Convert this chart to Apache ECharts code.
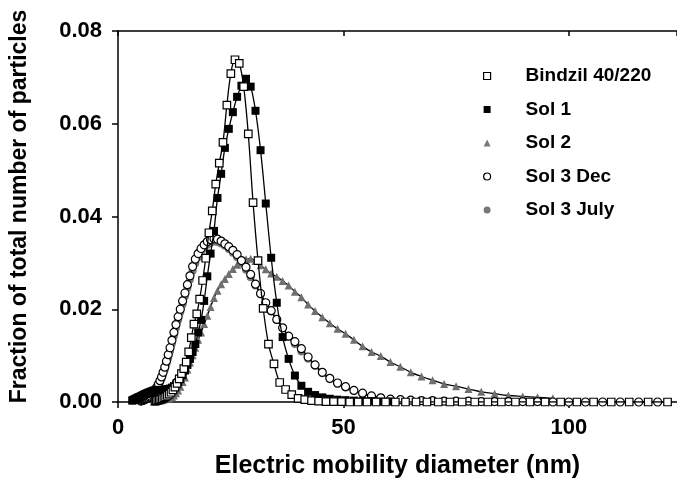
<!DOCTYPE html>
<html>
<head>
<meta charset="utf-8">
<script src="https://cdn.jsdelivr.net/npm/echarts@6/dist/echarts.min.js"></script>
<style>html,body{margin:0;padding:0;background:#fff;}#chart{width:677px;height:485px;}</style>
</head>
<body>
<div id="chart"></div>
<script>
// SMPS bin diameters (nm)
const diametersA = [
  3.16, 3.28, 3.40, 3.52, 3.65, 3.79, 3.92, 4.07, 4.22, 4.37,
  4.53, 4.70, 4.87, 5.05, 5.23, 5.42, 5.62, 5.83, 6.04, 6.26,
  6.49, 6.73, 6.98, 7.23, 7.50, 7.77, 8.06, 8.35, 8.66, 8.98,
  9.31, 9.65, 10.0, 10.37, 10.75, 11.14, 11.55, 11.97, 12.41, 12.86,
  13.34, 13.82, 14.33, 14.86, 15.40, 15.96, 16.55, 17.15, 17.78, 18.43,
  19.11, 19.81, 20.54, 21.29, 22.07, 22.88, 23.71, 24.58, 25.48, 26.42,
  27.38, 28.39, 29.43, 30.50, 31.62, 32.78, 33.98, 35.22, 36.52, 37.85,
  39.24, 40.68, 42.17, 43.71, 45.32, 46.98, 48.70, 50.48, 52.33, 54.25,
  56.23, 58.29, 60.43, 62.64, 64.94, 67.32, 69.78, 72.34, 74.99, 77.74,
  80.58, 83.54, 86.60, 89.77, 93.06, 96.47, 100.0, 103.7, 107.5, 111.4,
  115.5, 119.7, 124.1
];
const diametersB = [
  8.21, 8.51, 8.82, 9.14, 9.48, 9.82, 10.18, 10.56, 10.94, 11.35,
  11.76, 12.19, 12.64, 13.10, 13.58, 14.08, 14.60, 15.13, 15.68, 16.26,
  16.85, 17.47, 18.11, 18.77, 19.46, 20.17, 20.91, 21.68, 22.47, 23.29,
  24.15, 25.03, 25.95, 26.90, 27.88, 28.90, 29.96, 31.06, 32.20, 33.38,
  34.60, 35.87, 37.18, 38.54, 39.95, 41.42, 42.93, 44.51, 46.14, 47.83,
  49.58, 51.39, 53.28, 55.23, 57.25, 59.35, 61.52, 63.77, 66.11, 68.53,
  71.04, 73.64, 76.34, 79.14, 82.04, 85.04, 88.16, 91.39, 94.73, 98.20,
  101.8, 105.5, 109.4, 113.4, 117.6, 121.9
];

// Bindzil 40/220 (on diametersB)
const bindzil = [
  0.0002, 0.0003, 0.0004, 0.0005, 0.0006, 0.0007, 0.0009, 0.0011, 0.0014, 0.0017,
  0.0021, 0.0026, 0.0032, 0.0040, 0.0050, 0.0061, 0.0072, 0.0086, 0.0108, 0.0139,
  0.0168, 0.0190, 0.0222, 0.0262, 0.0310, 0.0365, 0.0412, 0.0470, 0.0515, 0.0560,
  0.0640, 0.0708, 0.0738, 0.0730, 0.0680, 0.0578, 0.0430, 0.0305, 0.0202, 0.0125,
  0.0082, 0.0042, 0.0027, 0.0016, 0.0008, 0.0005, 0.0003, 0.0002, 0.0001, 0.0001,
  0.0001, 0, 0, 0, 0, 0, 0, 0, 0, 0,
  0, 0, 0, 0, 0, 0, 0, 0, 0, 0,
  0, 0, 0, 0, 0, 0
];

// Sol 1 (diametersA from index 0)
const sol1Start = 0;
const sol1 = [
  0.0003, 0.0004, 0.0004, 0.0005, 0.0005, 0.0006, 0.0007, 0.0007, 0.0008, 0.0009,
  0.0010, 0.0010, 0.0011, 0.0012, 0.0013, 0.0014, 0.0015, 0.0016, 0.0017, 0.0018,
  0.0019, 0.0020, 0.0021, 0.0022, 0.0023, 0.0024, 0.0025, 0.0025, 0.0026, 0.0026,
  0.0026, 0.0026, 0.0026, 0.0027, 0.0027, 0.0028, 0.0029, 0.0031, 0.0034, 0.0038,
  0.0043, 0.0050, 0.0058, 0.0068, 0.0080, 0.0093, 0.0108, 0.0125, 0.0150, 0.0177,
  0.0218, 0.0271, 0.0320, 0.0369, 0.0440, 0.0492, 0.0548, 0.0589, 0.0625, 0.0658,
  0.0682, 0.0697, 0.0680, 0.0628, 0.0543, 0.0428, 0.0311, 0.0214, 0.0140, 0.0093,
  0.0057, 0.0035, 0.0022, 0.0015, 0.0010, 0.0007, 0.0005, 0.0004, 0.0003, 0.0002,
  0.0002, 0.0001, 0.0001
];

// Sol 2 (diametersA from index 26)
const sol2Start = 26;
const sol2 = [
  0.0001, 0.0001, 0.0002, 0.0002,
  0.0003, 0.0004, 0.0005, 0.0006, 0.0007, 0.0008, 0.0009, 0.0011, 0.0014, 0.0019,
  0.0025, 0.0033, 0.0043, 0.0053, 0.0070, 0.0085, 0.0101, 0.0117, 0.0134, 0.0150,
  0.0168, 0.0186, 0.0205, 0.0224, 0.0240, 0.0254, 0.0265, 0.0276, 0.0287, 0.0296,
  0.0303, 0.0308, 0.0309, 0.0304, 0.0295, 0.0286, 0.0277, 0.0270, 0.0261, 0.0251,
  0.0238, 0.0226, 0.0210, 0.0196, 0.0183, 0.0170, 0.0158, 0.0147, 0.0134, 0.0120,
  0.0108, 0.0099, 0.0086, 0.0076, 0.0064, 0.0055, 0.0047, 0.0039, 0.0034, 0.0028,
  0.0022, 0.0018, 0.0014, 0.0012, 0.0010, 0.0008
];

// Sol 3 Dec (diametersA from index 13)
const sol3DecStart = 13;
const sol3Dec = [
  0.0002, 0.0003, 0.0003, 0.0004, 0.0005,
  0.0006, 0.0007, 0.0008, 0.0009, 0.0011, 0.0013, 0.0016, 0.0019, 0.0023, 0.0028, 0.0033, 0.0039,
  0.0046, 0.0054, 0.0064, 0.0075, 0.0088, 0.0102, 0.0117, 0.0133, 0.0150, 0.0167,
  0.0184, 0.0200, 0.0218, 0.0235, 0.0253, 0.0272, 0.0292, 0.0308, 0.0320, 0.0331,
  0.0339, 0.0346, 0.0350, 0.0352, 0.0351, 0.0347, 0.0341, 0.0335, 0.0327, 0.0318,
  0.0305, 0.0291, 0.0275, 0.0254, 0.0234, 0.0214, 0.0197, 0.0178, 0.0160, 0.0142,
  0.0130, 0.0115, 0.0097, 0.0080, 0.0064, 0.0051, 0.0041, 0.0033, 0.0025, 0.0019,
  0.0013, 0.0009, 0.0006, 0.0005, 0.0004, 0.0003, 0.0003, 0.0002, 0.0002, 0.0002,
  0.0001, 0.0001, 0.0001, 0.0001, 0.0001, 0, 0, 0, 0, 0, 0, 0
];

// Sol 3 July (diametersA from index 16)
const sol3JulyStart = 16;
const sol3July = [
  0.0003, 0.0004, 0.0005, 0.0006, 0.0007, 0.0008, 0.0010, 0.0012, 0.0014, 0.0017, 0.0021, 0.0025, 0.0030, 0.0036,
  0.0042, 0.0050, 0.0059, 0.0070, 0.0082, 0.0095, 0.0110, 0.0126, 0.0143, 0.0160,
  0.0177, 0.0194, 0.0211, 0.0228, 0.0246, 0.0264, 0.0283, 0.0299, 0.0312, 0.0323,
  0.0332, 0.0339, 0.0344, 0.0346, 0.0345, 0.0342, 0.0337, 0.0330, 0.0322, 0.0312,
  0.0299, 0.0285, 0.0269, 0.0251, 0.0232, 0.0213, 0.0195, 0.0177, 0.0159, 0.0141,
  0.0125, 0.0109, 0.0093, 0.0078, 0.0062, 0.0049, 0.0039, 0.0031, 0.0024, 0.0017,
  0.0012, 0.0009, 0.0006, 0.0005, 0.0004, 0.0003, 0.0002, 0.0002, 0.0002, 0.0001,
  0.0001, 0.0001, 0.0001, 0.0001, 0, 0, 0
];

const seriesNames = ['Bindzil 40/220', 'Sol 1', 'Sol 2', 'Sol 3 Dec', 'Sol 3 July'];
const xTicks = [0, 50, 100];
const yTicks = [0, 0.02, 0.04, 0.06, 0.08];
const xTitle = 'Electric mobility diameter (nm)';
const yTitle = 'Fraction of total number of particles';

const FONT = '"Liberation Sans", Arial, Helvetica, sans-serif';

function pairs(diam, start, vals) {
  return vals.map((v, i) => [diam[start + i], v]);
}

function mkSeries(name, data, symbol, size, itemStyle, z) {
  return {
    type: 'line', name: name, data: data,
    symbol: symbol, symbolSize: size, smooth: 0.35,
    showAllSymbol: true,
    lineStyle: { color: '#000', width: 1.3 },
    itemStyle: itemStyle,
    emphasis: { disabled: true },
    z: z, clip: true
  };
}

const chart = echarts.init(document.getElementById('chart'), null, { renderer: 'canvas' });
const axisLineStyle = { color: '#000', width: 1.5 };
const labelStyle = { color: '#000', fontSize: 22, fontWeight: 'bold', fontFamily: FONT };

chart.setOption({
  animation: false,
  backgroundColor: '#fff',
  grid: { left: 118, right: 0, top: 31, bottom: 83, containLabel: false },
  legend: {
    orient: 'vertical', left: 478, top: 61, itemGap: 13.5,
    itemWidth: 7, itemHeight: 7,
    selectedMode: false,
    textStyle: { color: '#000', fontSize: 19, fontWeight: 'bold', fontFamily: FONT, lineHeight: 20, padding: [0, 0, 0, 30] },
    data: [
      { name: seriesNames[0], icon: 'rect', itemStyle: { color: '#fff', borderColor: '#000', borderWidth: 1.2 } },
      { name: seriesNames[1], icon: 'rect', itemStyle: { color: '#000', borderWidth: 0 } },
      { name: seriesNames[2], icon: 'triangle', itemStyle: { color: '#777', borderWidth: 0 } },
      { name: seriesNames[3], icon: 'circle', itemStyle: { color: '#fff', borderColor: '#000', borderWidth: 1.2 } },
      { name: seriesNames[4], icon: 'circle', itemStyle: { color: '#777', borderWidth: 0 } }
    ]
  },
  xAxis: [{
    type: 'value', position: 'bottom', min: 0, max: 124, interval: 50,
    axisLine: { show: true, onZero: false, lineStyle: axisLineStyle },
    axisTick: { show: true, length: 6, lineStyle: axisLineStyle },
    axisLabel: Object.assign({ margin: 15, showMaxLabel: false,
      formatter: v => (xTicks.indexOf(v) >= 0 ? String(v) : '') }, labelStyle),
    splitLine: { show: false },
    name: xTitle, nameLocation: 'middle', nameGap: 52,
    nameTextStyle: { color: '#000', fontSize: 25, fontWeight: 'bold', fontFamily: FONT }
  }, {
    type: 'value', position: 'top', min: 0, max: 124, interval: 50,
    axisLine: { show: true, onZero: false, lineStyle: axisLineStyle },
    axisTick: { show: true, inside: true, length: 5, lineStyle: axisLineStyle },
    axisLabel: { show: false }, splitLine: { show: false }
  }],
  yAxis: [{
    type: 'value', position: 'left', min: 0, max: 0.08, interval: 0.02,
    axisLine: { show: true, onZero: false, lineStyle: axisLineStyle },
    axisTick: { show: true, length: 6, lineStyle: axisLineStyle },
    axisLabel: Object.assign({ margin: 16, formatter: v => v.toFixed(2) }, labelStyle),
    splitLine: { show: false },
    name: yTitle, nameLocation: 'middle', nameGap: 87,
    nameTextStyle: { color: '#000', fontSize: 23, fontWeight: 'bold', fontFamily: FONT, padding: [0, 0, 0, 20] }
  }, {
    type: 'value', position: 'right', min: 0, max: 0.08, interval: 0.02,
    axisLine: { show: false },
    axisTick: { show: true, inside: true, length: 5, lineStyle: axisLineStyle },
    axisLabel: { show: false }, splitLine: { show: false }
  }],
  series: [
    mkSeries(seriesNames[4], pairs(diametersA, sol3JulyStart, sol3July), 'circle', 8,
      { color: '#777', borderWidth: 0 }, 2),
    mkSeries(seriesNames[2], pairs(diametersA, sol2Start, sol2), 'triangle', 8,
      { color: '#6f6f6f', borderWidth: 0 }, 3),
    mkSeries(seriesNames[3], pairs(diametersA, sol3DecStart, sol3Dec), 'circle', 8,
      { color: '#fff', borderColor: '#000', borderWidth: 1.2 }, 4),
    mkSeries(seriesNames[1], pairs(diametersA, sol1Start, sol1), 'rect', 8,
      { color: '#000', borderWidth: 0 }, 5),
    mkSeries(seriesNames[0], pairs(diametersB, 0, bindzil), 'rect', 7.5,
      { color: '#fff', borderColor: '#000', borderWidth: 1.2 }, 6)
  ]
});
</script>
</body>
</html>
